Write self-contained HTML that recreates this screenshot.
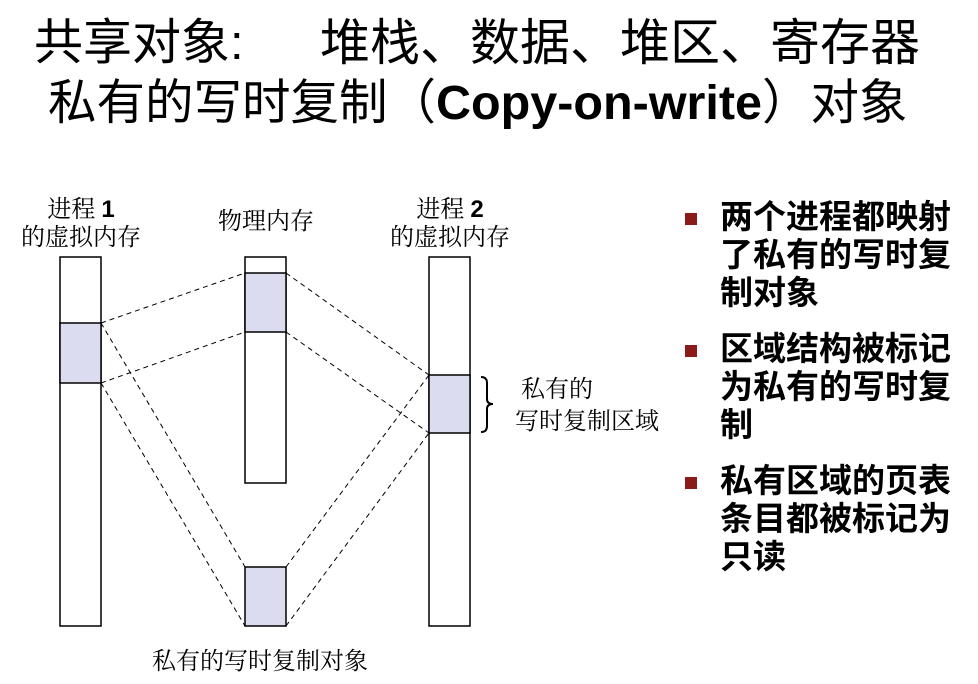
<!DOCTYPE html>
<html><head><meta charset="utf-8"><style>
body{margin:0;width:978px;height:684px;background:#fff;position:relative;overflow:hidden;font-family:"Liberation Sans","Noto Sans CJK SC",sans-serif;}
.t{position:absolute;white-space:nowrap;color:#000;}
.h{font-size:48px;line-height:56px;font-family:"Liberation Sans","Noto Sans CJK SC",sans-serif;}
.lbl{font-size:24px;font-family:"Liberation Serif","Noto Serif CJK SC",serif;text-align:center;line-height:28px;}
.b{font-size:33px;font-weight:bold;line-height:38px;left:720px;font-family:"Liberation Sans","Noto Sans CJK SC",sans-serif;}
.sq{position:absolute;left:685px;width:12px;height:12px;background:#8b1a1a;}
</style></head><body>
<div class="t h" style="left:34px;top:15px;font-size:49px;">共享对象:</div>
<div class="t h" style="left:320px;top:15px;font-size:50px;">堆栈、数据、堆区、寄存器</div>
<div class="t h" style="left:48px;top:75px;font-size:48.5px;">私有的写时复制（<b>Copy-on-write</b>）对象</div>

<svg style="position:absolute;left:0;top:0" width="978" height="684">
<g fill="#fff" stroke="#000" stroke-width="1.5">
<rect x="60" y="257" width="41" height="369"/>
<rect x="245" y="257" width="41" height="226"/>
<rect x="429" y="257" width="41" height="369"/>
</g>
<g fill="#dcdcf0" stroke="#000" stroke-width="1.5">
<rect x="60" y="323" width="41" height="60"/>
<rect x="245" y="273" width="41" height="59"/>
<rect x="245" y="567" width="41" height="59"/>
<rect x="429" y="375" width="41" height="58"/>
</g>
<g stroke="#000" stroke-width="1" stroke-dasharray="5,4" fill="none">
<line x1="101" y1="323" x2="245" y2="273"/>
<line x1="101" y1="383" x2="245" y2="332"/>
<line x1="101" y1="323" x2="245" y2="567"/>
<line x1="101" y1="383" x2="245" y2="626"/>
<line x1="286" y1="273" x2="429" y2="375"/>
<line x1="286" y1="332" x2="429" y2="433"/>
<line x1="286" y1="567" x2="429" y2="375"/>
<line x1="286" y1="626" x2="429" y2="433"/>
</g>
<path d="M481 377 Q487 377 487 383 L487 399 Q487 404 493 404 Q487 404 487 409 L487 426 Q487 432 481 432" fill="none" stroke="#000" stroke-width="2"/>
</svg>

<div class="t lbl" style="left:10px;top:196px;width:142px;">进程 <b style="font-family:'Liberation Sans'">1</b><br>的虚拟内存</div>
<div class="t lbl" style="left:195px;top:208px;width:142px;">物理内存</div>
<div class="t lbl" style="left:379px;top:196px;width:142px;">进程 <b style="font-family:'Liberation Sans'">2</b><br>的虚拟内存</div>
<div class="t lbl" style="left:515px;top:374px;width:170px;text-align:left;line-height:32px;">&nbsp;私有的<br>写时复制区域</div>
<div class="t lbl" style="left:152px;top:648px;">私有的写时复制对象</div>

<div class="sq" style="top:213px"></div>
<div class="t b" style="top:198px;">两个进程都映射<br>了私有的写时复<br>制对象</div>
<div class="sq" style="top:345px"></div>
<div class="t b" style="top:330px;">区域结构被标记<br>为私有的写时复<br>制</div>
<div class="sq" style="top:477px"></div>
<div class="t b" style="top:462px;">私有区域的页表<br>条目都被标记为<br>只读</div>
</body></html>
